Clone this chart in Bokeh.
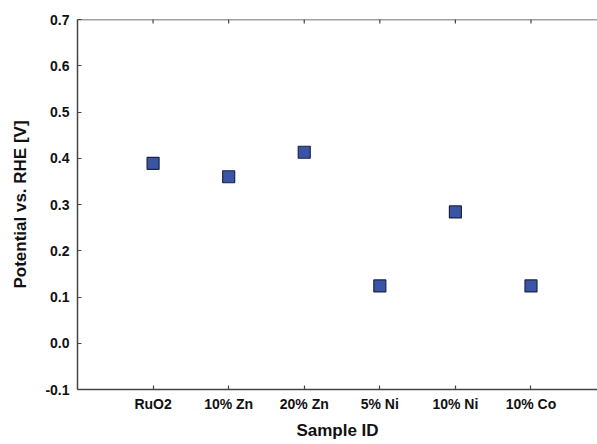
import math
from bokeh.plotting import figure
from bokeh.models import FixedTicker, Range1d, ColumnDataSource, Span, PrintfTickFormatter
from bokeh.embed import file_html
from bokeh.resources import INLINE

samples = ["RuO2", "10% Zn", "20% Zn", "5% Ni", "10% Ni", "10% Co"]
potential = [0.389, 0.360, 0.413, 0.124, 0.284, 0.124]
y_ticks = [-0.1, 0.0, 0.1, 0.2, 0.3, 0.4, 0.5, 0.6, 0.7]

xpos = list(range(1, len(samples) + 1))
src = ColumnDataSource(dict(x=xpos, y=potential, name=samples))

FONT = "Liberation Sans"
AX = "#444444"
Y_TOP = y_ticks[-1]

p = figure(width=597, height=444, output_backend="svg", toolbar_location=None,
           x_range=Range1d(0, 6.88), y_range=Range1d(y_ticks[0], Y_TOP),
           min_border_left=77, min_border_right=0, min_border_top=19, min_border_bottom=55)
p.outline_line_color = None
p.grid.visible = False
p.background_fill_color = "white"

# top frame line with inward ticks
p.add_layout(Span(location=Y_TOP, dimension="width", line_color=AX, line_width=1.5))
p.scatter(x=xpos, y=[Y_TOP] * len(xpos), marker="dash", angle=math.pi / 2, size=8,
          line_color=AX, line_width=1.2)

p.scatter("x", "y", source=src, marker="square", size=12,
          fill_color="#3a55a6", line_color="#1c2547", line_width=1.2)

xa = p.xaxis[0]
xa.ticker = FixedTicker(ticks=xpos)
xa.major_label_overrides = {i: s for i, s in zip(xpos, samples)}
xa.axis_label = "Sample ID"
xa.minor_tick_line_color = None

ya = p.yaxis[0]
ya.ticker = FixedTicker(ticks=y_ticks)
ya.formatter = PrintfTickFormatter(format="%.1f")
ya.axis_label = "Potential vs. RHE [V]"
ya.minor_tick_line_color = None

for ax in (xa, ya):
    ax.axis_line_color = AX
    ax.axis_line_width = 1.5
    ax.major_tick_line_color = AX
    ax.major_tick_line_width = 1.2
    ax.major_tick_in = 4
    ax.major_tick_out = 0
    ax.major_label_text_font = FONT
    ax.major_label_text_font_style = "bold"
    ax.major_label_text_font_size = "14px"
    ax.major_label_text_color = "#111111"
    ax.axis_label_text_font = FONT
    ax.axis_label_text_font_style = "bold"
    ax.axis_label_text_font_size = "17px"
    ax.axis_label_text_color = "#111111"

xa.major_label_standoff = 6
xa.axis_label_standoff = 6
ya.major_label_standoff = 8
ya.axis_label_standoff = 12

open("out.html", "w").write(file_html(p, INLINE))
